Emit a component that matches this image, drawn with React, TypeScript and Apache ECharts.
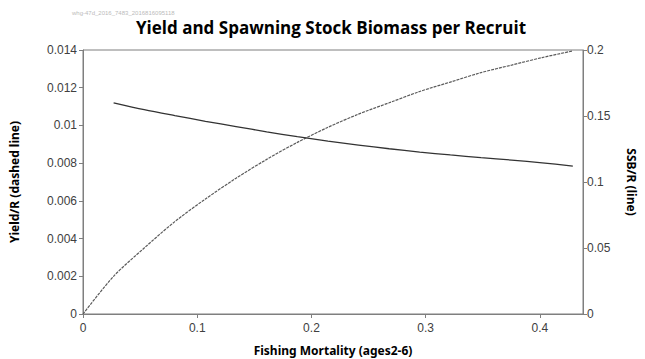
import React, { useEffect, useRef } from "react";
import * as echarts from "echarts";

const fishingMortality = [0, 0.0268, 0.0536, 0.0804, 0.1072, 0.134, 0.1608, 0.1876, 0.2144, 0.2412, 0.268, 0.2948, 0.3216, 0.3484, 0.3752, 0.402, 0.4288];
const yieldPerRecruit = [0, 0.002, 0.0035, 0.0049, 0.0061, 0.0072, 0.0082, 0.0091, 0.0099, 0.0106, 0.0112, 0.0118, 0.0123, 0.0128, 0.0132, 0.0136, 0.01395];
const ssbPerRecruit = [null, 0.16, 0.1548, 0.1503, 0.146, 0.142, 0.138, 0.1343, 0.131, 0.128, 0.1252, 0.1227, 0.1205, 0.1185, 0.1166, 0.1145, 0.1121];

const title = "Yield and Spawning Stock Biomass per Recruit";
const watermark = "whg-47d_2016_7483_2016816095118";
const xName = "Fishing Mortality (ages2-6)";
const yLeftName = "Yield/R (dashed line)";
const yRightName = "SSB/R (line)";

export default function App() {
  const ref = useRef<HTMLDivElement>(null);
  useEffect(() => {
    if (!ref.current) return;
    const chart = echarts.init(ref.current, null, { renderer: "svg" });
    const axisColor = "#7f7f7f";
    const labelColor = "#404040";
    chart.setOption({
      animation: false,
      backgroundColor: "#ffffff",
      textStyle: { fontFamily: "Liberation Sans, Arial, sans-serif" },
      title: {
        text: title,
        left: 326,
        textAlign: "center",
        top: 14,
        textStyle: { fontFamily: "Open Sans, sans-serif", fontWeight: "bold", fontSize: 17, color: "#000" },
      },
      graphic: [
        {
          type: "text",
          left: 72,
          top: 10,
          style: { text: watermark, fontSize: 6, fill: "#bbbbbb", fontFamily: "Liberation Sans, sans-serif" },
        },
      ],
      grid: {
        left: 83,
        right: 62,
        top: 50,
        bottom: 45,
        containLabel: false,
        outerBoundsMode: "none",
        show: true,
        borderColor: axisColor,
        borderWidth: 1,
      },
      xAxis: {
        type: "value",
        min: 0,
        max: 0.4377,
        interval: 0.1,
        name: xName,
        nameLocation: "middle",
        nameGap: 30,
        nameTextStyle: { fontWeight: "bold", fontSize: 12, color: "#000", fontFamily: "Noto Sans, sans-serif" },
        axisLine: { lineStyle: { color: axisColor } },
        axisTick: { show: true, length: 4, lineStyle: { color: axisColor } },
        axisLabel: { color: labelColor, fontSize: 12, margin: 8, showMaxLabel: false },
        splitLine: { show: false },
      },
      yAxis: [
        {
          type: "value",
          min: 0,
          max: 0.014,
          interval: 0.002,
          position: "left",
          name: yLeftName,
          nameLocation: "middle",
          nameGap: 63,
          nameRotate: 90,
          nameTextStyle: { fontWeight: "bold", fontSize: 12, color: "#000", fontFamily: "Noto Sans, sans-serif" },
          axisLine: { show: true, lineStyle: { color: axisColor } },
          axisTick: { show: true, length: 4, lineStyle: { color: axisColor } },
          axisLabel: { color: labelColor, fontSize: 12, margin: 6 },
          splitLine: { show: false },
        },
        {
          type: "value",
          min: 0,
          max: 0.2,
          interval: 0.05,
          position: "right",
          name: yRightName,
          nameLocation: "middle",
          nameGap: 42,
          nameRotate: -90,
          nameTextStyle: { fontWeight: "bold", fontSize: 12, color: "#000", fontFamily: "Noto Sans, sans-serif" },
          axisLine: { show: true, lineStyle: { color: axisColor } },
          axisTick: { show: true, length: 4, lineStyle: { color: axisColor } },
          axisLabel: { color: labelColor, fontSize: 12, margin: 4 },
          splitLine: { show: false },
        },
      ],
      series: [
        {
          type: "line",
          yAxisIndex: 0,
          data: fishingMortality.map((f, i) => [f, yieldPerRecruit[i]]),
          showSymbol: false,
          smooth: 0.3,
          lineStyle: { color: "#5a5a5a", width: 1.2, type: [3, 1] },
        },
        {
          type: "line",
          yAxisIndex: 1,
          data: fishingMortality.map((f, i) => [f, ssbPerRecruit[i]]),
          showSymbol: false,
          smooth: 0.3,
          connectNulls: false,
          lineStyle: { color: "#333333", width: 1.3 },
        },
      ],
    });
    return () => chart.dispose();
  }, []);
  return <div ref={ref} style={{ position: "absolute", left: 0, top: 0, width: 645, height: 359 }} />;
}
